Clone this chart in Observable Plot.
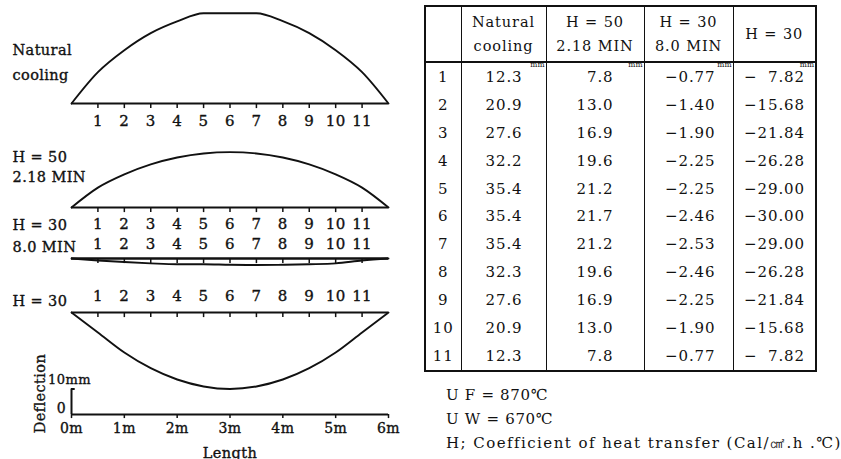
<!DOCTYPE html>
<html><head><meta charset="utf-8">
<script src="https://cdn.jsdelivr.net/npm/d3@7"></script>
<script src="https://cdn.jsdelivr.net/npm/@observablehq/plot@0.6"></script>
<style>
html,body{margin:0;padding:0;background:#fff;}
#root{position:relative;width:841px;height:459px;overflow:hidden;font-family:"DejaVu Serif",serif;color:#111;}
#chart{position:absolute;left:0;top:0;}
#chart svg text{letter-spacing:0.4px;}
#tbl{position:absolute;left:424px;top:5px;width:391px;table-layout:fixed;border-collapse:collapse;border:2px solid #111;font-size:15px;letter-spacing:0.9px;}
#tbl th{font-weight:normal;height:54px;line-height:24px;border-left:1.5px solid #111;border-bottom:2px solid #111;text-align:center;padding:0;font-size:14.5px;}
#tbl td{height:27.9px;padding:0;border-left:1.5px solid #111;text-align:right;position:relative;white-space:pre;}
#tbl td.idx{text-align:center;}
#tbl .mm{position:absolute;top:-1px;right:1px;font-size:7.5px;letter-spacing:0;line-height:6px;}
#notes{position:absolute;left:446px;top:383px;font-size:15px;line-height:24px;white-space:pre;}
#notes div{letter-spacing:0.7px;}
#notes div:last-child{letter-spacing:1.45px;}
</style></head><body>
<div id="root"><div id="chart"></div><table id="tbl"></table><div id="notes"></div></div>
<script>
// ---- data (deflection in mm at measuring points 1..11) ----
const points = [1, 2, 3, 4, 5, 6, 7, 8, 9, 10, 11];
const naturalCooling = [12.3, 20.9, 27.6, 32.2, 35.4, 35.4, 35.4, 32.3, 27.6, 20.9, 12.3];
const h50_218min = [7.8, 13.0, 16.9, 19.6, 21.2, 21.7, 21.2, 19.6, 16.9, 13.0, 7.8];
const h30_80min = [-0.77, -1.40, -1.90, -2.25, -2.25, -2.46, -2.53, -2.46, -2.25, -1.90, -0.77];
const h30 = [-7.82, -15.68, -21.84, -26.28, -29.00, -30.00, -29.00, -26.28, -21.84, -15.68, -7.82];
const plateLength = 6;               // m
const lengthTicks = [0, 1, 2, 3, 4, 5, 6];
const scaleBarMm = 10;
const seriesNames = [["Natural", "cooling"], ["H = 50", "2.18 MIN"], ["H = 30", "8.0 MIN"], ["H = 30"]];
const tableHeaders = [[""], ["Natural", "cooling"], ["H = 50", "2.18 MIN"], ["H = 30", "8.0 MIN"], ["H = 30"]];
const notes = ["U F = 870℃", "U W = 670℃", "H; Coefficient of heat transfer (Cal/㎠.h .℃)"];

// ---- layout ----
const W = 420, H = 459, pxPerMm = 2.55;
const baseAt = px => (H - px) / pxPerMm;  // baseline pixel row -> mm units
const panels = [
  {values: naturalCooling, name: seriesNames[0], base: baseAt(103), nameDy: [-53, -28], numDy: 18},
  {values: h50_218min,     name: seriesNames[1], base: baseAt(207), nameDy: [-50, -30], numDy: 17},
  {values: h30_80min,      name: seriesNames[2], base: baseAt(258), nameDy: [-33, -11], numDy: -14},
  {values: h30,            name: seriesNames[3], base: baseAt(312), nameDy: [-11],      numDy: -16}
];
const lengthBase = baseAt(414);
const step = plateLength / 12;
const ink = "#111";
const txt = {fill: ink, stroke: ink, strokeWidth: 0.35};

const marks = [];
panels.forEach((p, k) => {
  const curve = [{x: 0, y: p.base}]
    .concat(points.map((pt, i) => ({x: pt * step, y: p.base + p.values[i]})))
    .concat([{x: plateLength, y: p.base}]);
  marks.push(Plot.line(curve, {x: "x", y: "y", curve: "monotone-x", strokeWidth: 1.9, stroke: ink}));
  marks.push(Plot.ruleY([p.base], {y: d => d, x1: () => 0, x2: () => plateLength, strokeWidth: k === 2 ? 2.6 : 2, stroke: ink}));
  marks.push(Plot.ruleX(points, {x: d => d * step, y1: () => p.base, y2: () => p.base - 2, strokeWidth: 1.5, stroke: ink}));
  marks.push(Plot.text(points, {x: d => d * step, y: () => p.base, dy: p.numDy, text: d => String(d), fontSize: 15, ...txt}));
  p.name.forEach((line, j) => {
    marks.push(Plot.text([line], {frameAnchor: "left", textAnchor: "start", y: () => p.base, dy: p.nameDy[j], text: d => d, fontSize: 14.5, ...txt}));
  });
});
// length axis & deflection scale bar
marks.push(Plot.ruleY([lengthBase], {y: d => d, x1: () => 0, x2: () => plateLength, strokeWidth: 2, stroke: ink}));
marks.push(Plot.ruleX(lengthTicks, {x: d => d, y1: () => lengthBase, y2: () => lengthBase - 1.6, strokeWidth: 1.5, stroke: ink}));
marks.push(Plot.text(lengthTicks, {x: d => d, y: () => lengthBase, dy: 14, text: d => d + "m", fontSize: 14, ...txt}));
marks.push(Plot.text(["Length"], {x: () => plateLength / 2, y: () => lengthBase, dy: 39, text: d => d, fontSize: 14.5, ...txt}));
marks.push(Plot.ruleX([0], {x: d => d, y1: () => lengthBase, y2: () => lengthBase + scaleBarMm, strokeWidth: 2, stroke: ink}));
marks.push(Plot.ruleY([lengthBase + scaleBarMm], {y: d => d, x1: () => 0, x2: () => 0.07, strokeWidth: 2, stroke: ink}));
marks.push(Plot.text([scaleBarMm + "mm"], {x: () => 0, y: () => lengthBase + scaleBarMm, dy: -9, dx: -2, text: d => d, fontSize: 13, ...txt}));
marks.push(Plot.text(["0"], {x: () => 0, y: () => lengthBase, dx: -10, dy: -6, text: d => d, fontSize: 14, ...txt}));
marks.push(Plot.text(["Deflection"], {frameAnchor: "left", textAnchor: "middle", y: () => lengthBase, dx: 28, dy: -21, rotate: -90, text: d => d, fontSize: 14.5, ...txt}));

const chart = Plot.plot({
  width: W, height: H,
  marginLeft: 12, marginRight: 0, marginTop: 0, marginBottom: 0,
  x: {domain: [0, plateLength], range: [71, 388], axis: null},
  y: {domain: [0, H / pxPerMm], range: [H, 0], axis: null},
  style: {fontFamily: "DejaVu Serif, serif", background: "transparent", color: ink},
  marks
});
document.getElementById("chart").appendChild(chart);

// ---- table ----
const colW = [36, 85, 98, 89, 83];
const padR = [0, 23, 30, 17, 10];
const tbl = d3.select("#tbl");
tbl.append("colgroup").selectAll("col").data(colW).join("col").style("width", d => d + "px");
tbl.append("thead").append("tr").selectAll("th").data(tableHeaders).join("th")
  .html(d => d.join("<br>"));
const neg = (v, w) => "−" + Math.abs(v).toFixed(2).padStart(w, "\u2007");
const rows = points.map((p, i) => [
  String(p),
  naturalCooling[i].toFixed(1),
  h50_218min[i].toFixed(1).padStart(4, "\u2007"),
  neg(h30_80min[i], 4),
  neg(h30[i], 5)
]);
const tb = tbl.append("tbody");
rows.forEach((r, i) => {
  const tr = tb.append("tr");
  r.forEach((c, j) => {
    const td = tr.append("td").attr("class", j === 0 ? "idx" : null)
      .style("padding-right", padR[j] + "px").text(c);
    if (i === 0 && j > 0) td.append("span").attr("class", "mm").text("mm");
  });
});

// ---- notes ----
d3.select("#notes").selectAll("div").data(notes).join("div").text(d => d);
</script></body></html>
